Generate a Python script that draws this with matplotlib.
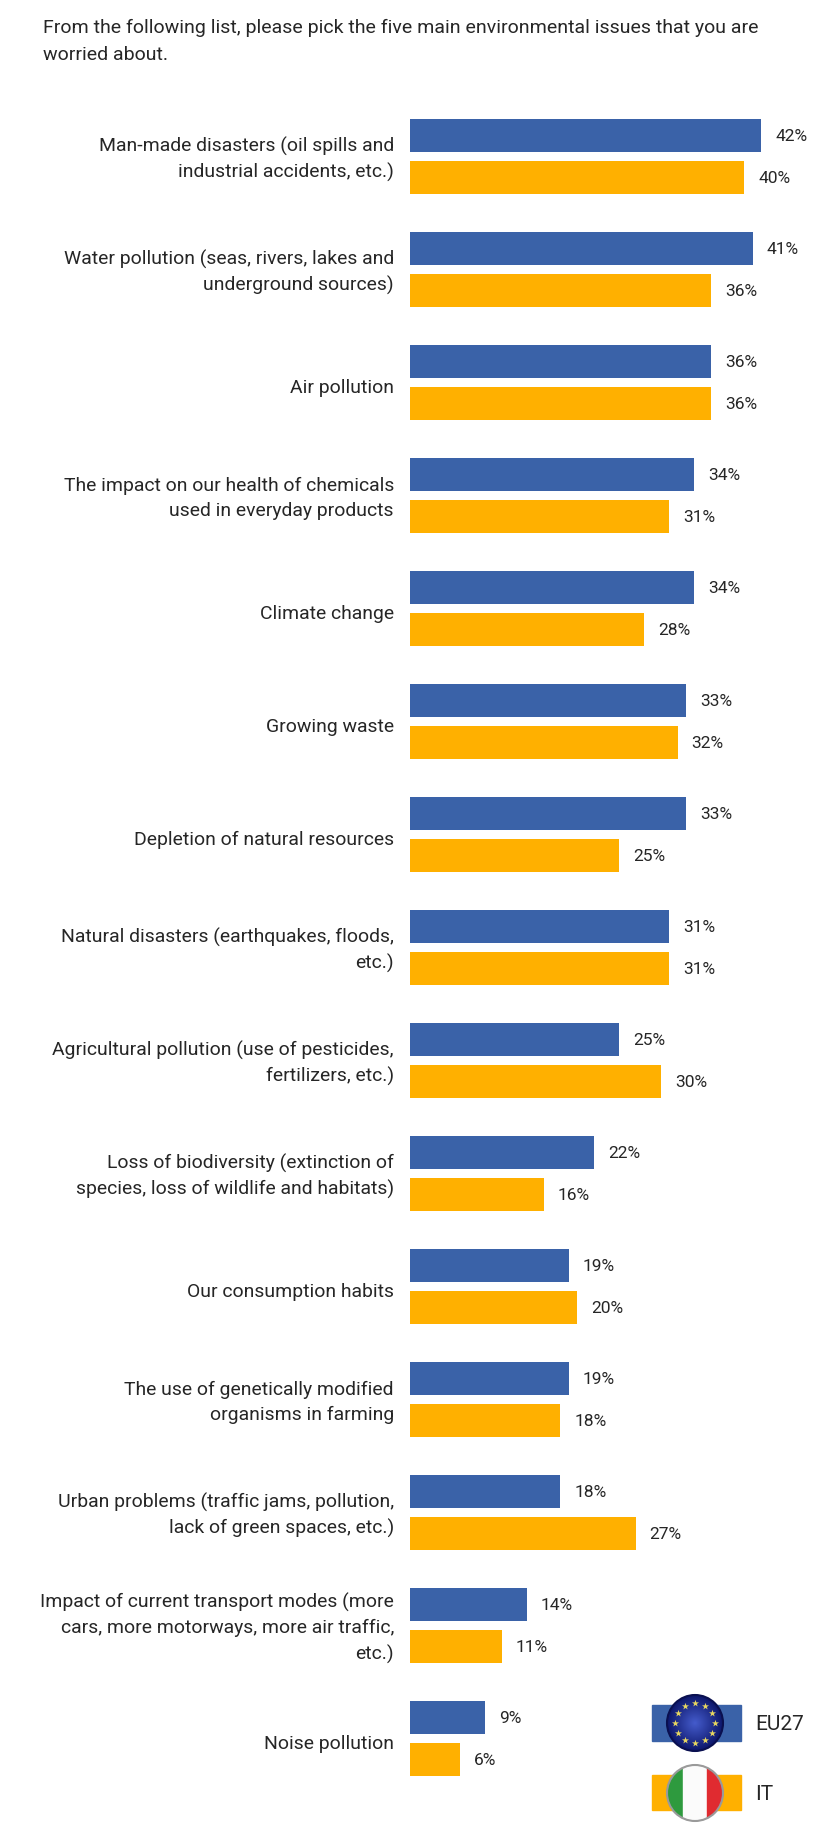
import numpy as np
import matplotlib
matplotlib.use("Agg")
import matplotlib.pyplot as plt
from matplotlib.patches import Circle, Rectangle

W, H = 828, 1829
TITLE = "From the following list, please pick the five main environmental issues that you are\nworried about."
CATEGORIES = [
    "Man-made disasters (oil spills and\nindustrial accidents, etc.)",
    "Water pollution (seas, rivers, lakes and\nunderground sources)",
    "Air pollution",
    "The impact on our health of chemicals\nused in everyday products",
    "Climate change",
    "Growing waste",
    "Depletion of natural resources",
    "Natural disasters (earthquakes, floods,\netc.)",
    "Agricultural pollution (use of pesticides,\nfertilizers, etc.)",
    "Loss of biodiversity (extinction of\nspecies, loss of wildlife and habitats)",
    "Our consumption habits",
    "The use of genetically modified\norganisms in farming",
    "Urban problems (traffic jams, pollution,\nlack of green spaces, etc.)",
    "Impact of current transport modes (more\ncars, more motorways, more air traffic,\netc.)",
    "Noise pollution",
]
EU27 = [42, 41, 36, 34, 34, 33, 33, 31, 25, 22, 19, 19, 18, 14, 9]
IT = [40, 36, 36, 31, 28, 32, 25, 31, 30, 16, 20, 18, 27, 11, 6]
BLUE, ORANGE, INK = "#3A62A8", "#FFB000", "#262626"
plt.rcParams["font.family"] = ["Roboto", "Liberation Sans", "DejaVu Sans"]

fig = plt.figure(figsize=(W / 100, H / 100), dpi=100, facecolor="white")
X0, PX_PER_PCT, PITCH, CENTER0 = 410, 8.36, 113.0, 156.5
ax = fig.add_axes([X0 / W, 0, (W - X0) / W, 1])
ax.set_xlim(0, (W - X0) / PX_PER_PCT)
ax.set_ylim((H - CENTER0) / PITCH, -CENTER0 / PITCH)
ax.axis("off")
y = np.arange(len(CATEGORIES))
off, bh = 21 / PITCH, 33 / PITCH
ax.barh(y - off, EU27, height=bh, color=BLUE)
ax.barh(y + off, IT, height=bh, color=ORANGE)
for yi, v in zip(y - off, EU27):
    ax.annotate(f"{v}%", (v, yi), xytext=(14, -1), textcoords="offset pixels", va="center", fontsize=12.5, color=INK)
for yi, v in zip(y + off, IT):
    ax.annotate(f"{v}%", (v, yi), xytext=(14, -1), textcoords="offset pixels", va="center", fontsize=12.5, color=INK)
for yi, c in zip(y, CATEGORIES):
    n = c.count("\n")
    ax.annotate(c, (0, yi), xytext=(-16, -5 if n == 0 else -3), textcoords="offset pixels", ha="right", va="center",
                fontsize=13.95, color=INK, linespacing=1.5)

ov = fig.add_axes([0, 0, 1, 1], facecolor="none")
ov.set_xlim(0, W); ov.set_ylim(H, 0); ov.axis("off")
ov.text(43, 28, TITLE.split("\n")[0], fontsize=14.0, color=INK, va="center")
ov.text(43, 55, TITLE.split("\n")[1], fontsize=14.0, color=INK, va="center")

ov.add_patch(Rectangle((652, 1705), 89, 36, color=BLUE, zorder=1))
ov.add_patch(Rectangle((652, 1775), 89, 35, color=ORANGE, zorder=1))
ov.text(755, 1724, "EU27", fontsize=15, color=INK, va="center")
ov.text(755, 1794, "IT", fontsize=15, color=INK, va="center")

gx, gy = np.meshgrid(np.linspace(-1, 1, 120), np.linspace(-1, 1, 120))
d = np.clip(np.hypot(gx, gy), 0, 1)[..., None]

# EU flag button
cx, cy, r = 695, 1723, 28
img = (1 - d) * np.array([0.27, 0.36, 0.80]) + d * np.array([0.05, 0.09, 0.42])
im = ov.imshow(img, extent=(cx - r, cx + r, cy + r, cy - r), zorder=2, aspect="auto")
im.set_clip_path(Circle((cx, cy), r, transform=ov.transData))
ov.add_patch(Circle((cx, cy), r, fill=False, ec="#0A1050", lw=1.5, zorder=3))
ang = np.arange(12) * np.pi / 6
ov.scatter(cx + 20 * np.cos(ang), cy + 20 * np.sin(ang), marker="*", s=28, color="#E8D860", lw=0, zorder=4)

# Italian flag button
cy2 = 1793
for x0, w, col in [(cx - r, 16, "#2E9A3E"), (cx - r + 16, 24, "#FBFBFB"), (cx - r + 40, 16, "#E02B30")]:
    p = Rectangle((x0, cy2 - r), w, 2 * r, color=col, zorder=2)
    ov.add_patch(p)
    p.set_clip_path(Circle((cx, cy2), r, transform=ov.transData))
ov.add_patch(Circle((cx, cy2), r, fill=False, ec="#9A9A9A", lw=1.5, zorder=3))
ov.set_xlim(0, W); ov.set_ylim(H, 0)

fig.savefig("out.png", dpi=100)
